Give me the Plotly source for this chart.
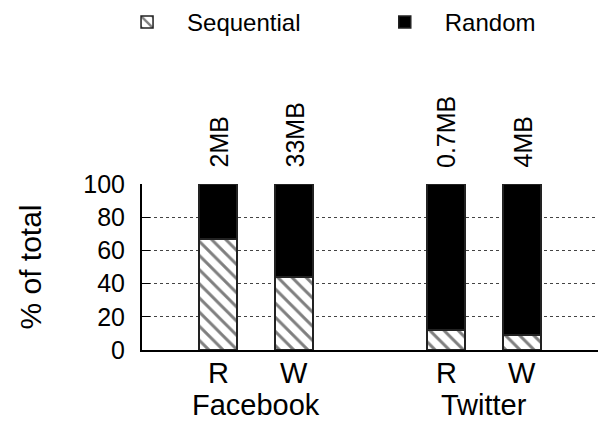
import plotly.graph_objects as go

# Data
bar_labels = ["R", "W", "R", "W"]
bar_pos = [0, 1, 3, 4]
groups = ["Facebook", "Twitter"]
group_pos = [0.5, 3.5]
sequential = [67, 44, 12, 9]
random_pct = [33, 56, 88, 91]
sizes = ["2MB", "33MB", "0.7MB", "4MB"]
yticks = [0, 20, 40, 60, 80, 100]

FONT = "Liberation Sans, Arial, Helvetica, sans-serif"

fig = go.Figure()
fig.add_trace(go.Bar(
    x=bar_pos, y=sequential, name="Sequential", width=0.5, legend="legend",
    marker=dict(color="white", line=dict(color="#222", width=1.5),
                pattern=dict(shape="\\", fgcolor="black", bgcolor="white",
                             size=10, solidity=0.3)),
))
fig.add_trace(go.Bar(
    x=bar_pos, y=random_pct, name="Random", width=0.5, legend="legend2",
    marker=dict(color="black", line=dict(color="#222", width=1.5)),
))

annotations = []
for xp, s in zip(bar_pos, sizes):
    annotations.append(dict(x=xp, y=100, xref="x", yref="y", text=s, textangle=-90,
                            showarrow=False, yanchor="bottom", yshift=14,
                            font=dict(size=25, family=FONT, color="black")))
for xp, t in zip(bar_pos, bar_labels):
    annotations.append(dict(x=xp, y=0, xref="x", yref="paper", text=t,
                            showarrow=False, yanchor="top", yshift=-6,
                            borderpad=0,
                            font=dict(size=29, family=FONT, color="black")))
for xp, g in zip(group_pos, groups):
    annotations.append(dict(x=xp, y=0, xref="x", yref="paper", text=g,
                            showarrow=False, yanchor="top", yshift=-38,
                            borderpad=0,
                            font=dict(size=29, family=FONT, color="black")))

leg_common = dict(orientation="h", xref="container", yref="container",
                  y=1.0, xanchor="left", yanchor="top",
                  font=dict(size=24, family=FONT), itemwidth=70)

fig.update_layout(
    width=598, height=422,
    margin=dict(l=142, r=0, t=184, b=72),
    barmode="stack",
    plot_bgcolor="white", paper_bgcolor="white",
    font=dict(family=FONT, color="black", size=24),
    showlegend=True,
    legend=dict(x=0.179, **leg_common),
    legend2=dict(x=0.610, **leg_common),
    annotations=annotations,
    xaxis=dict(range=[-1, 5], tickvals=bar_pos, showticklabels=False,
               showline=True, linecolor="black", linewidth=2, ticks="",
               showgrid=False, zeroline=False),
    yaxis=dict(range=[0, 100], tickvals=yticks, showline=True, linecolor="black",
               linewidth=2, ticks="inside", ticklen=8, tickcolor="black",
               showgrid=True, gridcolor="#444", griddash="dot", gridwidth=1,
               zeroline=False, tickfont=dict(size=25, family=FONT),
               ticklabelstandoff=10,
               title=dict(text="% of total", font=dict(size=30, family=FONT),
                          standoff=33)),
)

fig.write_html("out.html")
